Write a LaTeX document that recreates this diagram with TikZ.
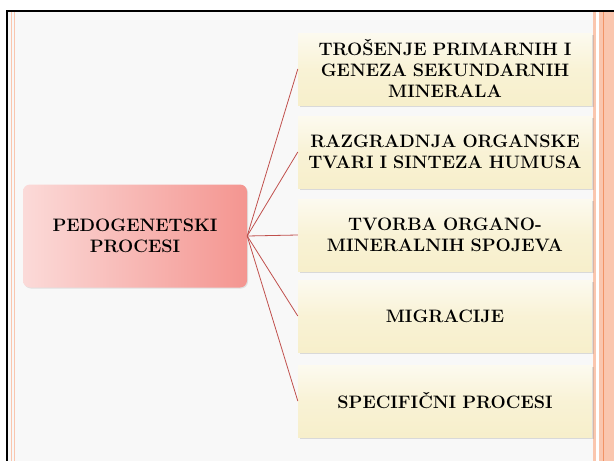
\documentclass[tikz,border=0pt]{standalone}
\usepackage{xcolor}
\usepackage{tikz}
\usetikzlibrary{shadows}
\usetikzlibrary{calc,positioning}

\definecolor{okvir}{HTML}{FAC6AE}
\definecolor{okvirtamni}{HTML}{F29466}
\definecolor{pozadina}{HTML}{F8F8F8}
\definecolor{krem}{HTML}{F7EFCB}
\definecolor{roza}{HTML}{F49590}
\definecolor{veza}{HTML}{C0504D}

\begin{document}
\begin{tikzpicture}[x=1pt,y=-1pt,
    proces/.style={minimum width=294pt, minimum height=72pt, text width=286pt,
      align=center, font=\bfseries\fontsize{18}{21}\selectfont,
      top color=krem!30, bottom color=krem, middle color=krem!80,
      drop shadow={opacity=0.25, shadow xshift=1.5pt, shadow yshift=-1.5pt}},
    glavni/.style={minimum width=224pt, minimum height=103pt, rounded corners=7pt,
      align=center, font=\bfseries\fontsize{18}{21}\selectfont,
      left color=roza!35, right color=roza,
      drop shadow={opacity=0.2, shadow xshift=1pt, shadow yshift=-1pt}}]

    \useasboundingbox (0,0) rectangle (614,461);

    % Okvir
    \fill[white] (0,0) rectangle (614,461);
    \fill[pozadina] (8,11) rectangle (593,461);
    \draw[line width=2.5pt] (7.2,461) -- (7.2,11) -- (614,11);
    \draw[okvir, line width=1.2pt] (11.5,12.3) -- (11.5,461);
    \draw[okvir, line width=1.6pt] (14.3,12.3) -- (14.3,461);
    \fill[okvir] (593,12.3) rectangle (596,461);
    \fill[okvir] (599,12.3) rectangle (614,461);
    \draw[okvirtamni, line width=0.6pt] (603,12.3) -- (603,461);

    % Glavni proces
    \node[glavni] (pedo) at (135,236) {PEDOGENETSKI\\PROCESI};

    % Procesi
    \node[proces] (p1) at (445,69)  {TROŠENJE PRIMARNIH I\\GENEZA SEKUNDARNIH\\MINERALA};
    \node[proces] (p2) at (445,152) {RAZGRADNJA ORGANSKE\\TVARI I SINTEZA HUMUSA};
    \node[proces] (p3) at (445,235) {TVORBA ORGANO-\\MINERALNIH SPOJEVA};
    \node[proces] (p4) at (445,316) {MIGRACIJE};
    \node[proces] (p5) at (445,401) {SPECIFIČNI PROCESI};

    % Veze
    \foreach \i in {1,...,5} {
        \draw[veza, line width=0.8pt] (pedo.east) -- (p\i.west);
    }

\end{tikzpicture}
\end{document}
